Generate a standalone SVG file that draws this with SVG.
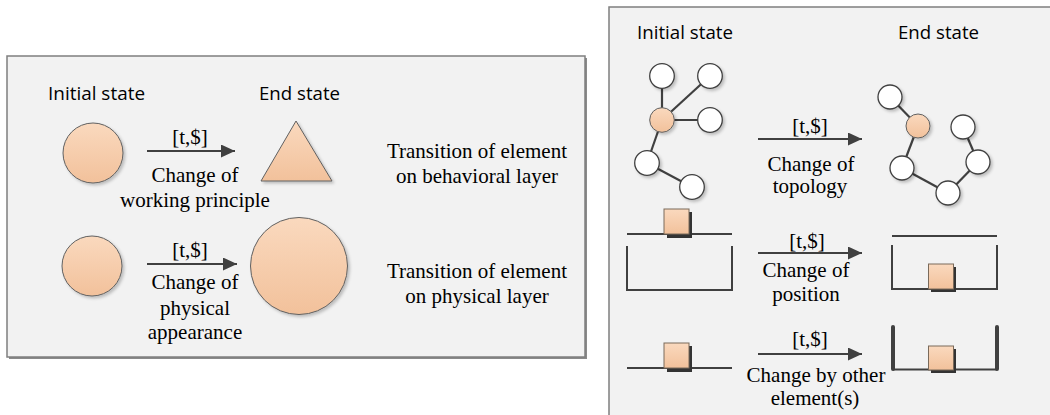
<svg xmlns="http://www.w3.org/2000/svg" width="1050" height="415" viewBox="0 0 1050 415">
<defs>
<linearGradient id="og" x1="0" y1="0" x2="0" y2="1">
<stop offset="0" stop-color="#fad9be"/>
<stop offset="1" stop-color="#f2c19b"/>
</linearGradient>
<filter id="sh" x="-20%" y="-20%" width="150%" height="150%">
<feDropShadow dx="2" dy="2" stdDeviation="1.5" flood-color="#000" flood-opacity="0.22"/>
</filter>
<marker id="ah" viewBox="0 0 14 13" refX="14" refY="6.5" markerWidth="14" markerHeight="13" markerUnits="userSpaceOnUse" orient="auto">
<path d="M0,0 L14,6.5 L0,13 Z" fill="#404040"/>
</marker>
</defs>
<style>
.panel{fill:#f2f2f2;stroke:#7f7f7f;stroke-width:1.5}
.sans{font-family:'Open Sans','Liberation Sans',sans-serif;font-size:18px;fill:#000}
.serif{font-family:'Liberation Serif','Tinos','Times New Roman','Noto Serif','DejaVu Serif',serif;font-size:21px;fill:#000;text-anchor:middle}
.orange{fill:url(#og);stroke:#606060;stroke-width:1;filter:url(#sh)}
.wnode{fill:#fff;stroke:#404040;stroke-width:1.3;filter:url(#sh)}
.edge{stroke:#404040;stroke-width:2.2;fill:none}
.arrow{stroke:#404040;stroke-width:2;fill:none;marker-end:url(#ah)}
.cont{stroke:#404040;stroke-width:2;fill:none}
.thick{stroke:#404040;stroke-width:4;fill:none;stroke-linecap:round}
.bshadow{fill:#333}
.box{fill:url(#og);stroke:#7a6a5a;stroke-width:1}
</style>

<g id="left-panel">
<rect x="9" y="58" width="578" height="301" fill="#8a8a8a"/>
<rect class="panel" x="7" y="56" width="578" height="301"/>
<text class="sans" x="48" y="100" textLength="97" lengthAdjust="spacingAndGlyphs">Initial state</text>
<text class="sans" x="259" y="100" textLength="81" lengthAdjust="spacingAndGlyphs">End state</text>
</g>

<g id="right-panel">
<rect class="panel" x="609" y="7" width="450" height="420"/>
<text class="sans" x="637" y="39" textLength="96" lengthAdjust="spacingAndGlyphs">Initial state</text>
<text class="sans" x="898" y="39" textLength="81" lengthAdjust="spacingAndGlyphs">End state</text>
</g>

<g id="circle-initial-1"><circle class="orange" cx="93" cy="153" r="30"/></g>
<g id="triangle-end"><polygon class="orange" points="296,121 332,181 261,181"/></g>
<g id="circle-initial-2"><circle class="orange" cx="92" cy="266" r="30"/></g>
<g id="circle-end-big"><circle class="orange" cx="299" cy="266" r="48.5"/></g>

<g id="label-behavioral">
<text class="serif" x="477" y="158" font-family="Liberation Serif, serif">Transition of element</text>
<text class="serif" x="477" y="183" font-family="Liberation Serif, serif">on behavioral layer</text>
</g>
<g id="label-physical">
<text class="serif" x="477" y="278" font-family="Liberation Serif, serif">Transition of element</text>
<text class="serif" x="477" y="303" font-family="Liberation Serif, serif">on physical layer</text>
</g>

<g id="topology-initial">
<line class="edge" x1="662" y1="76" x2="662" y2="120"/>
<line class="edge" x1="662" y1="120" x2="710" y2="76"/>
<line class="edge" x1="662" y1="120" x2="710" y2="120"/>
<line class="edge" x1="662" y1="120" x2="647" y2="163"/>
<line class="edge" x1="647" y1="163" x2="692" y2="187"/>
<circle class="wnode" cx="662" cy="76" r="12.3"/>
<circle class="wnode" cx="710" cy="76" r="12.3"/>
<circle class="wnode" cx="710" cy="120" r="12.3"/>
<circle class="wnode" cx="647" cy="163" r="12.3"/>
<circle class="wnode" cx="692" cy="187" r="12.3"/>
<circle class="orange" cx="662" cy="120" r="12.3"/>
</g>

<g id="topology-end">
<line class="edge" x1="890" y1="97" x2="918" y2="126"/>
<line class="edge" x1="918" y1="126" x2="902" y2="168"/>
<line class="edge" x1="902" y1="168" x2="948" y2="193"/>
<line class="edge" x1="948" y1="193" x2="978" y2="162"/>
<line class="edge" x1="978" y1="162" x2="963" y2="127"/>
<circle class="wnode" cx="890" cy="97" r="12"/>
<circle class="wnode" cx="963" cy="127" r="12"/>
<circle class="wnode" cx="902" cy="168" r="12"/>
<circle class="wnode" cx="978" cy="162" r="12"/>
<circle class="wnode" cx="948" cy="193" r="12"/>
<circle class="orange" cx="918" cy="126" r="12"/>
</g>

<g id="position-initial">
<line class="cont" x1="627" y1="234" x2="732" y2="234"/>
<polyline class="cont" points="627,246 627,290 732,290 732,246"/>
<rect class="bshadow" x="667" y="212" width="25" height="26"/>
<rect class="box" x="664" y="209" width="25" height="25"/>
</g>

<g id="position-end">
<line class="cont" x1="892" y1="236" x2="997" y2="236"/>
<polyline class="cont" points="892,245 892,289 997,289 997,245"/>
<rect class="bshadow" x="931" y="267" width="25" height="25"/>
<rect class="box" x="928.5" y="264" width="25" height="25"/>
</g>

<g id="other-initial">
<line class="cont" x1="627" y1="368" x2="732" y2="368"/>
<rect class="bshadow" x="667" y="346" width="25" height="26"/>
<rect class="box" x="664" y="343" width="25" height="25"/>
</g>

<g id="other-end">
<line class="cont" x1="893" y1="369.5" x2="997" y2="369.5"/>
<line class="thick" x1="893" y1="327" x2="893" y2="369"/>
<line class="thick" x1="997" y1="327" x2="997" y2="369"/>
<rect class="bshadow" x="931" y="349" width="25" height="24"/>
<rect class="box" x="928.5" y="346" width="25" height="24"/>
</g>

<g id="connectors">
<line class="arrow" x1="147" y1="151" x2="235" y2="151"/>
<line class="arrow" x1="147" y1="264" x2="237" y2="264"/>
<line class="arrow" x1="758" y1="139" x2="862" y2="139"/>
<line class="arrow" x1="758" y1="253" x2="862" y2="253"/>
<line class="arrow" x1="758" y1="354" x2="862" y2="354"/>
</g>

<g id="connector-labels">
<text class="serif" x="190" y="144">[t,$]</text>
<text class="serif" x="195" y="182">Change of</text>
<text class="serif" x="195" y="207">working principle</text>
<text class="serif" x="190" y="257">[t,$]</text>
<text class="serif" x="195" y="289">Change of</text>
<text class="serif" x="195" y="315">physical</text>
<text class="serif" x="195" y="339">appearance</text>
<text class="serif" x="810" y="133">[t,$]</text>
<text class="serif" x="811" y="171">Change of</text>
<text class="serif" x="810" y="193">topology</text>
<text class="serif" x="807" y="248">[t,$]</text>
<text class="serif" x="806" y="277">Change of</text>
<text class="serif" x="806" y="301">position</text>
<text class="serif" x="810" y="346">[t,$]</text>
<text class="serif" x="816" y="382">Change by other</text>
<text class="serif" x="815" y="405">element(s)</text>
</g>
</svg>
